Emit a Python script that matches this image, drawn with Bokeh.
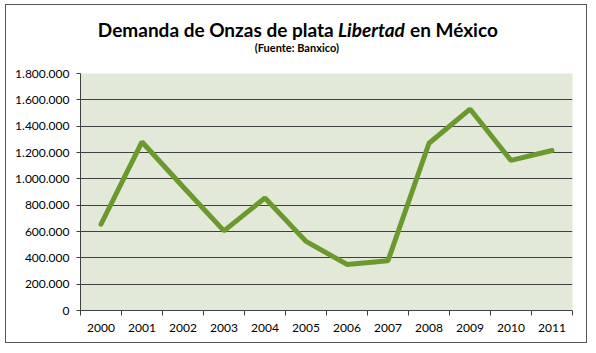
from bokeh.plotting import figure
from bokeh.layouts import column
from bokeh.models import FixedTicker, Label, Range1d
from bokeh.embed import file_html
from bokeh.resources import INLINE

years = ["2000", "2001", "2002", "2003", "2004", "2005",
         "2006", "2007", "2008", "2009", "2010", "2011"]
demand = [655000, 1280000, 940000, 605000, 855000, 525000,
          350000, 378000, 1270000, 1530000, 1140000, 1215000]
y_ticks = [0, 200000, 400000, 600000, 800000, 1000000,
           1200000, 1400000, 1600000, 1800000]
y_tick_labels = ["0", "200.000", "400.000", "600.000", "800.000", "1.000.000",
                 "1.200.000", "1.400.000", "1.600.000", "1.800.000"]
title_parts = ["Demanda de Onzas de plata", "Libertad", "en México"]
subtitle = "(Fuente: Banxico)"

FONT = "Lato"
W = 580
x = list(range(len(years)))

# ---- title block ----
t = figure(width=W, height=60, output_backend="svg", toolbar_location=None,
           x_range=Range1d(0, W), y_range=Range1d(60, 0),
           x_axis_type=None, y_axis_type=None, min_border=0)
t.outline_line_color = None
t.background_fill_color = "white"
t.border_fill_color = "white"
t.xgrid.visible = False
t.ygrid.visible = False
common = dict(text_font=FONT, text_font_style="bold", text_font_size="19px",
              text_color="black", text_baseline="middle")
t.add_layout(Label(x=298.5, y=24, text=title_parts[0], text_align="right", **common))
t.add_layout(Label(x=303.5, y=24, text=title_parts[1], text_align="left",
                   **{**common, "text_font_style": "bold italic"}))
t.add_layout(Label(x=388.5, y=24, text=title_parts[2], text_align="left", **common))
t.add_layout(Label(x=255, y=41.5, text=subtitle, text_align="center",
                   **{**common, "text_font_size": "11px"}))

# ---- chart ----
p = figure(width=W, height=277, output_backend="svg", toolbar_location=None,
           x_range=Range1d(-0.5, len(years) - 0.5), y_range=Range1d(0, 1800000),
           min_border_left=74, min_border_right=14, min_border_top=8,
           min_border_bottom=32)
p.background_fill_color = "#E2E9D8"
p.border_fill_color = "white"
p.outline_line_color = None

p.line(x, demand, line_color="#6A992E", line_width=5, line_cap="round")

p.xgrid.grid_line_color = None
p.ygrid.ticker = FixedTicker(ticks=y_ticks)
p.ygrid.grid_line_color = "#404040"
p.ygrid.grid_line_width = 1

p.xaxis.ticker = FixedTicker(ticks=x, minor_ticks=[i - 0.5 for i in range(len(years) + 1)])
p.xaxis.major_label_overrides = {i: yr for i, yr in enumerate(years)}
p.xaxis.major_tick_out = 0
p.xaxis.major_tick_in = 0
p.xaxis.minor_tick_out = 5
p.xaxis.minor_tick_in = 0
p.xaxis.minor_tick_line_color = "#404040"
p.xaxis.major_label_standoff = 8

p.yaxis.ticker = FixedTicker(ticks=y_ticks)
p.yaxis.major_label_overrides = {tk: lb for tk, lb in zip(y_ticks, y_tick_labels)}
p.yaxis.major_tick_out = 4
p.yaxis.major_tick_in = 0
p.yaxis.minor_tick_line_color = None
p.yaxis.major_label_standoff = 7

for ax in (p.xaxis, p.yaxis):
    ax.axis_line_color = "#404040"
    ax.major_tick_line_color = "#404040"
    ax.major_label_text_font = FONT
    ax.major_label_text_font_size = "12px"
    ax.major_label_text_color = "black"

layout = column(t, p, spacing=0, margin=(4, 0, 0, 5),
                styles={"border": "1px solid #555555"})

open("out.html", "w").write(file_html(layout, INLINE))
